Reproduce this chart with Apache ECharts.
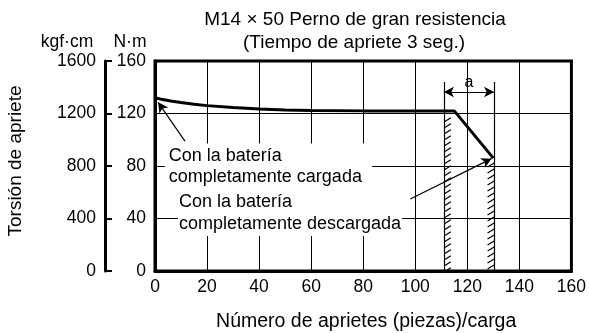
<!DOCTYPE html>
<html>
<head>
<meta charset="utf-8">
<script src="https://cdn.jsdelivr.net/npm/echarts@6/dist/echarts.min.js"></script>
<style>
  html, body { margin: 0; padding: 0; background: #fff; }
  #chart { width: 589px; height: 333px; }
</style>
</head>
<body>
<div id="chart"></div>
<script>
// Tightening torque vs. number of tightenings per charge
const FONT = '"Liberation Sans", Arial, sans-serif';

const titleLines = ['M14 × 50 Perno de gran resistencia', '(Tiempo de apriete 3 seg.)'];
const xName = 'Número de aprietes (piezas)/carga';
const yName = 'Torsión de apriete';
const unitNm = 'N·m';
const unitKgf = 'kgf·cm';

// torque curve (N·m) against number of tightenings
const countsX = [0, 3, 6, 10, 15, 20, 30, 40, 50, 60, 80, 100, 115, 130];
const torqueNm = [132, 130.6, 129.5, 128.3, 127.1, 126, 124.5, 123.4, 122.6, 122.2, 122, 122, 122, 86];

// axis ranges
const xTicks = [0, 160, 20];
const nmTicks = [0, 160, 40];
const kgfTicks = [0, 1600, 400];

// hatched bands: [edge x, inner x, top torque]
const bandLeft = [111, 113.7, 119];
const bandRight = [130.3, 127.6, 84.6];
// dimension "a" between the two band edges
const dimTop = 144;
const dimArrowY = 136.4;
const dimLabel = 'a';

// annotation texts and anchors (data coordinates of text top-left)
const noteCharged = ['Con la batería', 'completamente cargada'];
const noteChargedAt = [5.3, 97.2];
const noteChargedArrow = [[11.5, 98.9], [1.2, 128.5]];
const noteEmpty = ['Con la batería', 'completamente descargada'];
const noteEmptyAt = [9.2, 62.5];
const noteEmptyArrow = [[98.1, 54.9], [129.3, 85.6]];

const chart = echarts.init(document.getElementById('chart'));

function hatchItem(params, api) {
  const xEdge = api.value(0), xIn = api.value(1), yTop = api.value(2);
  const a = api.coord([xEdge, yTop]);
  const b = api.coord([xIn, 0]);
  const left = Math.min(a[0], b[0]), right = Math.max(a[0], b[0]);
  const top = a[1], bottom = b[1];
  const children = [];
  for (let y = top + 5; y <= bottom - 1; y += 6) {
    children.push({
      type: 'line',
      shape: { x1: left + 0.5, y1: y + 2, x2: right, y2: y - 2 },
      style: { stroke: '#000', lineWidth: 1.2 }
    });
  }
  return { type: 'group', children: children };
}

const axisLineStyle = { color: '#000', width: 3 };
const labelStyle = { color: '#000', fontSize: 17.5, fontFamily: FONT };

chart.setOption({
  animation: false,
  backgroundColor: '#fff',
  grid: { left: 155, right: 15, top: 61, bottom: 62, show: true, borderColor: '#000', borderWidth: 3 },
  xAxis: {
    type: 'value', min: xTicks[0], max: xTicks[1], interval: xTicks[2],
    axisLine: { lineStyle: axisLineStyle },
    axisTick: { show: false },
    axisLabel: Object.assign({ margin: 7 }, labelStyle),
    splitLine: { show: true, lineStyle: { color: '#000', width: 1 } }
  },
  yAxis: [
    {
      type: 'value', min: nmTicks[0], max: nmTicks[1], interval: nmTicks[2], position: 'left',
      axisLine: { show: true, lineStyle: axisLineStyle },
      axisTick: { show: false },
      axisLabel: Object.assign({ margin: 9 }, labelStyle),
      splitLine: { show: true, lineStyle: { color: '#000', width: 1 } }
    },
    {
      type: 'value', min: kgfTicks[0], max: kgfTicks[1], interval: kgfTicks[2], position: 'left', offset: 50,
      axisLine: { show: true, lineStyle: axisLineStyle },
      axisTick: { show: true, inside: true, length: 7, lineStyle: { color: '#000', width: 2 } },
      axisLabel: Object.assign({ margin: 9, formatter: (v) => String(v) }, labelStyle),
      splitLine: { show: false }
    }
  ],
  series: [
    {
      type: 'custom',
      renderItem: hatchItem,
      data: [bandLeft, bandRight],
      z: 3,
      silent: true
    },
    {
      type: 'line',
      data: countsX.map((x, i) => [x, torqueNm[i]]),
      symbol: 'none',
      lineStyle: { color: '#000', width: 3 },
      z: 5,
      markLine: {
        silent: true,
        symbolSize: [8, 10],
        lineStyle: { color: '#000', width: 1.2, type: 'solid' },
        label: { show: false },
        data: [
          [{ coord: [bandLeft[0], dimTop], symbol: 'none' }, { coord: [bandLeft[0], 0], symbol: 'none' }],
          [{ coord: [bandRight[0], dimTop], symbol: 'none' }, { coord: [bandRight[0], 0], symbol: 'none' }],
          [{ coord: [bandLeft[0], dimArrowY], symbol: 'arrow' }, { coord: [bandRight[0], dimArrowY], symbol: 'arrow' }],
          [{ coord: noteChargedArrow[0], symbol: 'none' }, { coord: noteChargedArrow[1], symbol: 'arrow' }],
          [{ coord: noteEmptyArrow[0], symbol: 'none' }, { coord: noteEmptyArrow[1], symbol: 'arrow' }]
        ]
      }
    }
  ]
});

// texts placed relative to the plot
const toPx = (p) => chart.convertToPixel({ xAxisIndex: 0, yAxisIndex: 0 }, p);
const pCharged = toPx(noteChargedAt);
const pEmpty = toPx(noteEmptyAt);
const pA = toPx([(bandLeft[0] + bandRight[0]) / 2, dimTop]);
const rect = chart.getModel().getComponent('grid', 0).coordinateSystem.getRect();
const cx = rect.x + rect.width / 2;

chart.setOption({
  graphic: [
    { type: 'text', x: 355, y: 20, z: 20,
      style: { text: titleLines[0], fontSize: 19, fontFamily: FONT, fill: '#000', textAlign: 'center', textVerticalAlign: 'middle' } },
    { type: 'text', x: 354, y: 43, z: 20,
      style: { text: titleLines[1], fontSize: 19, fontFamily: FONT, fill: '#000', textAlign: 'center', textVerticalAlign: 'middle' } },
    { type: 'text', x: 67, y: 42, z: 20,
      style: { text: unitKgf, fontSize: 17.5, fontFamily: FONT, fill: '#000', textAlign: 'center', textVerticalAlign: 'middle' } },
    { type: 'text', x: 130, y: 42, z: 20,
      style: { text: unitNm, fontSize: 17.5, fontFamily: FONT, fill: '#000', textAlign: 'center', textVerticalAlign: 'middle' } },
    { type: 'text', x: 16, y: 161, rotation: Math.PI / 2, z: 20,
      style: { text: yName, fontSize: 19, fontFamily: FONT, fill: '#000', textAlign: 'center', textVerticalAlign: 'middle' } },
    { type: 'text', x: cx + 3, y: 322, z: 20,
      style: { text: xName, fontSize: 19.5, fontFamily: FONT, fill: '#000', textAlign: 'center', textVerticalAlign: 'middle' } },
    { type: 'text', x: pA[0], y: pA[1] + 1, z: 20,
      style: { text: dimLabel, fontSize: 16, fontFamily: FONT, fill: '#000', textAlign: 'center', textVerticalAlign: 'middle' } },
    { type: 'text', x: pCharged[0] - 4, y: pCharged[1], z: 20,
      style: { text: noteCharged.join('\n'), fontSize: 18, lineHeight: 21, fontFamily: FONT, fill: '#000',
        backgroundColor: '#fff', padding: [2, 10, 2, 4] } },
    { type: 'text', x: pEmpty[0] - 1, y: pEmpty[1], z: 20,
      style: { text: noteEmpty.join('\n'), fontSize: 18, lineHeight: 22, fontFamily: FONT, fill: '#000',
        backgroundColor: '#fff', padding: [2, 1, 1, 1] } }
  ]
});
</script>
</body>
</html>
